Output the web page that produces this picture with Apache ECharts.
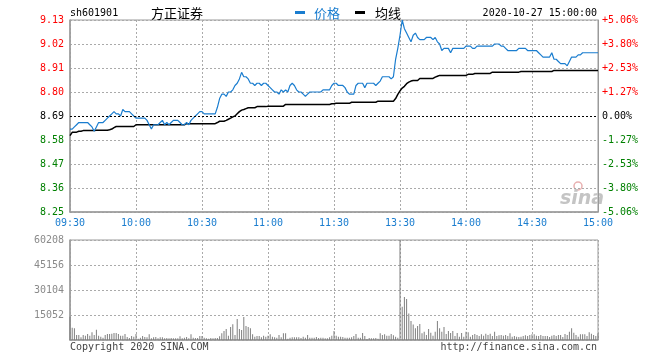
<!DOCTYPE html>
<html>
<head>
<meta charset="utf-8">
<script src="https://cdn.jsdelivr.net/npm/echarts@6/dist/echarts.min.js"></script>
<style>html,body{margin:0;padding:0;background:#fff;}#c{width:660px;height:360px;}</style>
</head>
<body>
<div id="c"></div>
<script>
var stockCode = 'sh601901';
var stockName = '方正证券';
var legendNames = ['价格', '均线'];
var dateTime = '2020-10-27 15:00:00';
var prevClose = 8.69;
var priceMin = 8.25, priceMax = 9.13, priceStep = 0.11;
var volMax = 60208, volStep = 15052;
var tickLabels = ['09:30', '10:00', '10:30', '11:00', '11:30', '13:30', '14:00', '14:30', '15:00'];
var tickEvery = 30;

var price = [
 8.63, 8.63, 8.64, 8.65, 8.66, 8.66, 8.66, 8.66, 8.66, 8.65, 8.64, 8.62, 8.64, 8.66, 8.66, 8.66, 8.67, 8.68, 8.69, 8.70, 8.71, 8.70, 8.70, 8.69, 8.72, 8.71, 8.71, 8.71, 8.70, 8.69, 8.68,
 8.68, 8.68, 8.68, 8.68, 8.67, 8.65, 8.63, 8.65, 8.65, 8.65, 8.66, 8.67, 8.65, 8.66, 8.65, 8.66, 8.67, 8.67, 8.67, 8.66, 8.65, 8.65, 8.66, 8.65, 8.67, 8.68, 8.69, 8.70, 8.71, 8.71,
 8.70, 8.70, 8.70, 8.70, 8.70, 8.70, 8.73, 8.77, 8.79, 8.79, 8.78, 8.80, 8.80, 8.81, 8.83, 8.84, 8.86, 8.89, 8.87, 8.87, 8.86, 8.84, 8.84, 8.83, 8.84, 8.84, 8.83, 8.84, 8.84, 8.83,
 8.82, 8.81, 8.80, 8.80, 8.79, 8.81, 8.80, 8.81, 8.80, 8.83, 8.84, 8.83, 8.81, 8.80, 8.80, 8.79, 8.78, 8.79, 8.80, 8.80, 8.80, 8.80, 8.80, 8.80, 8.81, 8.81, 8.81, 8.81, 8.83, 8.84,
 8.84, 8.83, 8.83, 8.83, 8.82, 8.80, 8.79, 8.79, 8.79, 8.83, 8.84, 8.84, 8.84, 8.82, 8.84, 8.84, 8.84, 8.84, 8.83, 8.84, 8.85, 8.87, 8.87, 8.87, 8.87, 8.86, 8.87, 8.95, 9.00, 9.06,
 9.13, 9.09, 9.07, 9.05, 9.03, 9.06, 9.07, 9.05, 9.04, 9.04, 9.04, 9.05, 9.05, 9.05, 9.04, 9.05, 9.03, 9.02, 8.99, 9.00, 9.00, 9.00, 8.98, 9.00, 9.00, 9.00, 9.00, 9.00, 9.00, 9.01,
 9.01, 9.01, 9.00, 9.00, 9.01, 9.01, 9.01, 9.01, 9.01, 9.01, 9.01, 9.01, 9.02, 9.02, 9.02, 9.01, 9.01, 9.00, 8.99, 8.99, 8.99, 8.99, 8.99, 9.00, 9.00, 9.00, 9.00, 8.99, 8.99, 8.99,
 8.99, 8.99, 8.98, 8.97, 8.96, 8.96, 8.96, 8.96, 8.98, 8.95, 8.95, 8.94, 8.93, 8.93, 8.93, 8.92, 8.94, 8.96, 8.96, 8.96, 8.97, 8.97, 8.98, 8.98, 8.98, 8.98, 8.98, 8.98, 8.98, 8.98
];

var avgPrice = [
 8.600, 8.615, 8.616, 8.616, 8.620, 8.620, 8.623, 8.623, 8.623, 8.623, 8.623, 8.623, 8.625, 8.625, 8.625, 8.625, 8.625, 8.625, 8.627, 8.630, 8.637,
 8.642, 8.642, 8.642, 8.642, 8.642, 8.642, 8.642, 8.642, 8.642,
 8.650, 8.650, 8.650, 8.650, 8.650, 8.650, 8.650, 8.650, 8.650, 8.650, 8.650, 8.650, 8.650, 8.650, 8.650, 8.650, 8.650, 8.650, 8.650, 8.650, 8.650, 8.650, 8.650,
 8.655, 8.655, 8.655, 8.655, 8.655, 8.655, 8.655, 8.655, 8.655, 8.655, 8.655, 8.655, 8.655, 8.655,
 8.660, 8.666, 8.666, 8.666, 8.670, 8.675, 8.680, 8.686, 8.690, 8.700, 8.710, 8.717, 8.720, 8.724,
 8.728, 8.728, 8.728, 8.728, 8.733, 8.733, 8.733, 8.733, 8.733,
 8.735, 8.735, 8.735, 8.735, 8.735, 8.735, 8.735, 8.735,
 8.743, 8.743, 8.743, 8.743, 8.743, 8.743, 8.743, 8.743, 8.743, 8.743, 8.743, 8.743, 8.743, 8.743, 8.743, 8.743, 8.743, 8.743, 8.743, 8.743, 8.743,
 8.746, 8.746,
 8.748, 8.748, 8.748, 8.748, 8.748, 8.748, 8.748,
 8.753, 8.753, 8.753, 8.753, 8.753, 8.753, 8.753, 8.753, 8.753, 8.753, 8.753, 8.753,
 8.758, 8.758, 8.758, 8.758, 8.758, 8.758, 8.758, 8.758,
 8.770, 8.789, 8.805, 8.818, 8.826, 8.838, 8.845, 8.850,
 8.853, 8.853, 8.853,
 8.862, 8.862, 8.862, 8.862, 8.862, 8.862, 8.862,
 8.868, 8.872,
 8.876, 8.876, 8.876, 8.876, 8.876, 8.876, 8.876, 8.876, 8.876, 8.876, 8.876, 8.876, 8.876,
 8.881, 8.881, 8.881,
 8.885, 8.885, 8.885, 8.885, 8.885, 8.885, 8.885, 8.885,
 8.891, 8.891, 8.891, 8.891, 8.891, 8.891, 8.891, 8.891, 8.891, 8.891, 8.891, 8.891, 8.891,
 8.894, 8.894, 8.894, 8.894, 8.894, 8.894, 8.894, 8.894, 8.894, 8.894, 8.894, 8.894, 8.894, 8.894, 8.894,
 8.899, 8.899, 8.899, 8.899, 8.899, 8.899, 8.899, 8.899, 8.899, 8.899, 8.899, 8.899, 8.899, 8.899, 8.899, 8.899, 8.899, 8.899, 8.899, 8.899, 8.899
];

var volume = [
 14030, 7430, 7020, 3010, 3010, 1610, 3010, 2610, 3610, 2610, 4620, 3010, 6220, 2610, 2010, 1400, 3010, 3610, 3610, 3810,
 4210, 4210, 3610, 2610, 2610, 3610, 1810, 1200, 2410, 2010, 3610, 800, 1400, 2410, 1810, 1610, 3410, 1000, 1610, 1810,
 1000, 1610, 1610, 1000, 1200, 1000, 1200, 1000, 1000, 1000, 2210, 1000, 1400, 1810, 1000, 3410, 1400, 1200, 1200, 2410,
 2410, 1400, 1000, 800, 1200, 1000, 1200, 1200, 2210, 4010, 5420, 6620, 2610, 7830, 9430, 3010, 12640, 6620, 6020, 13850,
 8430, 7830, 7020, 3410, 2010, 2410, 2410, 1610, 2610, 2010, 2610, 3410, 2010, 1610, 1400, 3010, 1610, 4010, 4010, 800,
 1400, 1610, 1610, 1610, 1610, 1200, 2010, 1400, 3010, 1400, 1400, 1400, 1810, 1200, 1400, 1400, 1000, 1000, 1610, 2610,
 5420,
 2610, 2010, 2010, 1810, 1400, 1400, 1400, 1610, 2410, 3610, 1400, 1400, 4210, 2410, 600, 1200, 1000, 1000, 1200, 800,
 4010, 3010, 3410, 2610, 2610, 3610, 2810, 2010, 1400, 60208, 20000, 25900, 24700, 16000, 11400, 9400, 7000, 8400, 9600, 4000,
 5000, 3000, 6600, 4400, 2600, 5000, 11400, 7000, 5000, 7800, 3600, 5400, 4200, 5400, 2400, 4200, 2000, 4200, 2000, 5000,
 4600, 2000, 3000, 3600, 3000, 2400, 3400, 2600, 3800, 3000, 3800, 2400, 5000, 2400, 2800, 3000, 2600, 3000, 2400, 4000,
 2000, 2400, 2000, 1800, 2000, 2400, 2800, 2400, 3000, 3400, 3400, 2600, 2400, 3000, 2400, 2400, 2400, 1800, 2600, 3000,
 2400, 3000, 3000, 1800, 3600, 3000, 5000, 7000, 4400, 3000, 2000, 3400, 3400, 3400, 2400, 4600, 3800, 3000, 2400, 4000
];

var categories = price.map(function (_, i) { return String(i); });

var BLUE = '#1a7dcf';
var RED = '#ff0000';
var GREEN = '#008000';
var GRIDC = '#aaaaaa';
var MONO = 'DejaVu Sans Mono';

function isTick(i) { return i % tickEvery === 0; }
function priceColor(v) {
  v = Number(v);
  if (v > prevClose + 1e-6) return RED;
  if (v < prevClose - 1e-6) return GREEN;
  return '#000';
}

var chart = echarts.init(document.getElementById('c'), null, {renderer: 'canvas'});
chart.setOption({
  animation: false,
  backgroundColor: '#fff',
  grid: [
    {left: 70, top: 20, width: 528, height: 192, show: true, borderColor: '#9a9a9a', borderWidth: 1},
    {left: 70, top: 240, width: 528, height: 100, show: true, borderColor: '#9a9a9a', borderWidth: 1}
  ],
  xAxis: [
    {
      type: 'category', gridIndex: 0, data: categories, boundaryGap: false,
      axisLine: {show: true, lineStyle: {color: '#9a9a9a', width: 1.5}},
      axisTick: {show: false},
      axisLabel: {
        interval: function (i) { return isTick(i); },
        formatter: function (v) { return tickLabels[Number(v) / tickEvery]; },
        color: BLUE, fontFamily: MONO, fontSize: 10, margin: 6
      },
      splitLine: {show: true, interval: function (i) { return isTick(i); }, lineStyle: {color: GRIDC, type: [2, 2], width: 1}}
    },
    {
      type: 'category', gridIndex: 1, data: categories, boundaryGap: false,
      axisLine: {show: true, lineStyle: {color: '#9a9a9a', width: 1.5}},
      axisTick: {show: false},
      axisLabel: {show: false},
      splitLine: {show: true, interval: function (i) { return isTick(i); }, lineStyle: {color: GRIDC, type: [2, 2], width: 1}}
    }
  ],
  yAxis: [
    {
      type: 'value', gridIndex: 0, min: priceMin, max: priceMax, interval: priceStep, position: 'left',
      axisLine: {show: true, lineStyle: {color: '#9a9a9a', width: 1.5}},
      axisTick: {show: false},
      axisLabel: {
        formatter: function (v) { return v.toFixed(2); },
        color: function (v) { return priceColor(v); },
        fontFamily: MONO, fontSize: 10, margin: 6
      },
      splitLine: {show: true, lineStyle: {color: GRIDC, type: [2, 2], width: 1}}
    },
    {
      type: 'value', gridIndex: 0, min: priceMin, max: priceMax, interval: priceStep, position: 'right',
      axisLine: {show: true, lineStyle: {color: '#9a9a9a', width: 1}},
      axisTick: {show: false},
      axisLabel: {
        formatter: function (v) {
          var p = (v - prevClose) / prevClose * 100;
          if (Math.abs(p) < 1e-6) return '0.00%';
          return (p > 0 ? '+' : '') + p.toFixed(2) + '%';
        },
        color: function (v) { return priceColor(v); },
        fontFamily: MONO, fontSize: 10, margin: 4
      },
      splitLine: {show: false}
    },
    {
      type: 'value', gridIndex: 1, min: 0, max: volMax, interval: volStep,
      axisLine: {show: true, lineStyle: {color: '#9a9a9a', width: 1.5}},
      axisTick: {show: false},
      axisLabel: {
        formatter: function (v) { return v === 0 ? '' : String(v); },
        color: '#8a8a8a', fontFamily: MONO, fontSize: 10, margin: 6
      },
      splitLine: {show: true, lineStyle: {color: GRIDC, type: [2, 2], width: 1}}
    }
  ],
  series: [
    {
      name: legendNames[1], type: 'line', xAxisIndex: 0, yAxisIndex: 0, data: avgPrice,
      showSymbol: false, symbol: 'none', lineStyle: {color: '#000', width: 1.5}, z: 3
    },
    {
      name: legendNames[0], type: 'line', xAxisIndex: 0, yAxisIndex: 0, data: price,
      showSymbol: false, symbol: 'none', lineStyle: {color: BLUE, width: 1.2}, z: 4,
      markLine: {
        silent: true, symbol: 'none', label: {show: false},
        lineStyle: {color: '#000', type: [2, 2], width: 1},
        data: [{yAxis: prevClose}]
      }
    },
    {
      name: 'vol', type: 'bar', xAxisIndex: 1, yAxisIndex: 2, data: volume,
      barWidth: 1, itemStyle: {color: '#7f7f7f'}
    }
  ],
  graphic: [
    {type: 'text', style: {x: 70, y: 13, text: stockCode, font: '10px "DejaVu Sans Mono"', fill: '#000', textAlign: 'left', textVerticalAlign: 'middle', align: 'left', verticalAlign: 'middle'}},
    {type: 'text', style: {x: 151, y: 13, text: stockName, font: '13px "Noto Sans CJK SC"', fill: '#000', textAlign: 'left', textVerticalAlign: 'middle', align: 'left', verticalAlign: 'middle'}},
    {type: 'line', shape: {x1: 295, y1: 12.5, x2: 305, y2: 12.5}, style: {stroke: BLUE, lineWidth: 3}},
    {type: 'text', style: {x: 314, y: 13, text: legendNames[0], font: '13px "Noto Sans CJK SC"', fill: BLUE, textAlign: 'left', textVerticalAlign: 'middle', align: 'left', verticalAlign: 'middle'}},
    {type: 'line', shape: {x1: 355, y1: 12.5, x2: 365, y2: 12.5}, style: {stroke: '#000', lineWidth: 3}},
    {type: 'text', style: {x: 375, y: 13, text: legendNames[1], font: '13px "Noto Sans CJK SC"', fill: '#000', textAlign: 'left', textVerticalAlign: 'middle', align: 'left', verticalAlign: 'middle'}},
    {type: 'text', style: {x: 597, y: 13, text: dateTime, font: '10px "DejaVu Sans Mono"', fill: '#000', textAlign: 'right', textVerticalAlign: 'middle', align: 'right', verticalAlign: 'middle'}},
    {type: 'circle', shape: {cx: 578, cy: 186, r: 4}, style: {fill: 'none', stroke: '#e8b0b0', lineWidth: 1.5}},
    {type: 'text', style: {x: 582, y: 199, text: 'sina', font: 'italic bold 19px "DejaVu Sans"', fill: '#c4c4c4', textAlign: 'center', textVerticalAlign: 'middle', align: 'center', verticalAlign: 'middle'}},
    {type: 'text', style: {x: 70, y: 347, text: 'Copyright 2020 SINA.COM', font: '10px "DejaVu Sans Mono"', fill: '#444', textAlign: 'left', textVerticalAlign: 'middle', align: 'left', verticalAlign: 'middle'}},
    {type: 'text', style: {x: 597, y: 347, text: 'http://finance.sina.com.cn', font: '10px "DejaVu Sans Mono"', fill: '#444', textAlign: 'right', textVerticalAlign: 'middle', align: 'right', verticalAlign: 'middle'}}
  ]
});
</script>
</body>
</html>
